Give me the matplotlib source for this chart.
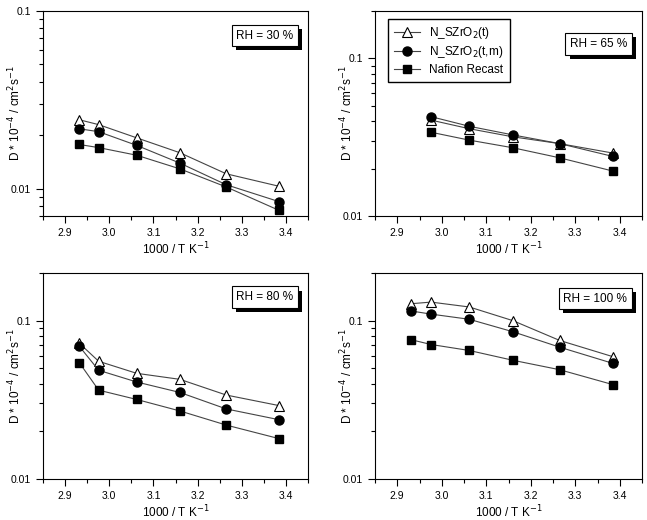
import numpy as np
import matplotlib
matplotlib.use("Agg")
import matplotlib.pyplot as plt
import matplotlib.patheffects as pe
from matplotlib.ticker import FixedLocator, MultipleLocator, LogLocator, NullFormatter, FuncFormatter

plt.rcParams['font.family'] = ['Liberation Sans', 'DejaVu Sans']

# 1000/T values
x6 = [2.932, 2.976, 3.062, 3.160, 3.265, 3.384]
x5 = x6[1:]

# RH = 30 %
rh30_t = [0.0244, 0.0229, 0.0193, 0.0159, 0.0121, 0.0103]
rh30_tm = [0.0217, 0.0209, 0.0175, 0.0139, 0.0105, 0.00844]
rh30_naf = [0.0177, 0.0170, 0.0154, 0.0129, 0.0102, 0.00754]

# RH = 65 %
rh65_t = [0.0406, 0.0358, 0.0318, 0.0288, 0.0251]
rh65_tm = [0.0427, 0.0371, 0.0327, 0.0288, 0.0239]
rh65_naf = [0.0340, 0.0303, 0.0271, 0.0234, 0.0193]

# RH = 80 %
rh80_t = [0.0721, 0.0554, 0.0465, 0.0426, 0.0339, 0.0291]
rh80_tm = [0.0690, 0.0486, 0.0410, 0.0352, 0.0277, 0.0237]
rh80_naf = [0.0544, 0.0364, 0.0318, 0.0269, 0.0219, 0.0180]

# RH = 100 %
rh100_t = [0.128, 0.131, 0.122, 0.100, 0.075, 0.0593]
rh100_tm = [0.115, 0.110, 0.102, 0.0851, 0.068, 0.0538]
rh100_naf = [0.0757, 0.0707, 0.0648, 0.0562, 0.0490, 0.0395]

labels = ["N_SZrO$_2$(t)", "N_SZrO$_2$(t,m)", "Nafion Recast"]

fig = plt.figure(figsize=(6.47, 5.2), dpi=100)

panels = [
    ([43, 11, 265, 205], x6, (rh30_t, rh30_tm, rh30_naf), "RH = 30 %", (0.007, 0.1), 0.88),
    ([375, 11, 267, 205], x5, (rh65_t, rh65_tm, rh65_naf), "RH = 65 %", (0.01, 0.2), 0.84),
    ([43, 273, 265, 206], x6, (rh80_t, rh80_tm, rh80_naf), "RH = 80 %", (0.01, 0.2), 0.883),
    ([375, 273, 267, 206], x6, (rh100_t, rh100_tm, rh100_naf), "RH = 100 %", (0.01, 0.2), 0.876),
]

W, H = 647.0, 520.0
for i, (px, xs, ys, rh, ylim, ty) in enumerate(panels):
    l, t, w, h = px
    ax = fig.add_axes([l / W, (H - t - h) / H, w / W, h / H])
    lc = '#444444'
    ax.plot(xs, ys[0], '-', color=lc, lw=0.8, marker='^', ms=6.5, mfc='white', mec='black', mew=0.8, label=labels[0])
    ax.plot(xs, ys[1], '-', color=lc, lw=0.8, marker='o', ms=6.5, mfc='black', mec='black', label=labels[1])
    ax.plot(xs, ys[2], '-', color=lc, lw=0.8, marker='s', ms=5.5, mfc='black', mec='black', label=labels[2])
    ax.set_yscale('log')
    ax.set_ylim(*ylim)
    ax.set_xlim(2.85, 3.45)
    ax.xaxis.set_major_locator(MultipleLocator(0.1))
    ax.xaxis.set_minor_locator(MultipleLocator(0.05))
    ax.xaxis.set_major_formatter(FuncFormatter(lambda v, p: "%.1f" % v))
    ax.yaxis.set_major_locator(FixedLocator([0.01, 0.1]))
    ax.yaxis.set_major_formatter(FuncFormatter(lambda v, p: "%g" % v))
    ax.yaxis.set_minor_locator(LogLocator(base=10, subs=np.arange(2, 10)))
    ax.yaxis.set_minor_formatter(NullFormatter())
    ax.tick_params(which='both', direction='out', top=False, right=False, labelsize=7.5, width=0.8)
    ax.tick_params(which='major', length=5)
    ax.tick_params(which='minor', length=3)
    for s in ax.spines.values():
        s.set_linewidth(0.8)
    ax.set_xlabel("1000 / T K$^{-1}$", fontsize=8.5, labelpad=2)
    ax.set_ylabel("D * 10$^{-4}$ / cm$^{2}$s$^{-1}$", fontsize=8.5, va='center')
    ax.yaxis.set_label_coords(-0.105, 0.5)
    txt = ax.text(0.945, ty, rh, transform=ax.transAxes, ha='right', va='center', fontsize=8.5,
                  bbox=dict(boxstyle='square,pad=0.4', fc='white', ec='black', lw=0.8))
    txt.get_bbox_patch().set_path_effects([
        pe.withSimplePatchShadow(offset=(3, -3), shadow_rgbFace='black', alpha=1.0)])
    if i == 1:
        ax.legend(loc='upper left', bbox_to_anchor=(0.049, 0.961), borderaxespad=0, fontsize=8.5,
                  fancybox=False, edgecolor='black', framealpha=1, handlelength=2.2,
                  labelspacing=0.3, borderpad=0.5)

fig.savefig("out.png", dpi=100)
